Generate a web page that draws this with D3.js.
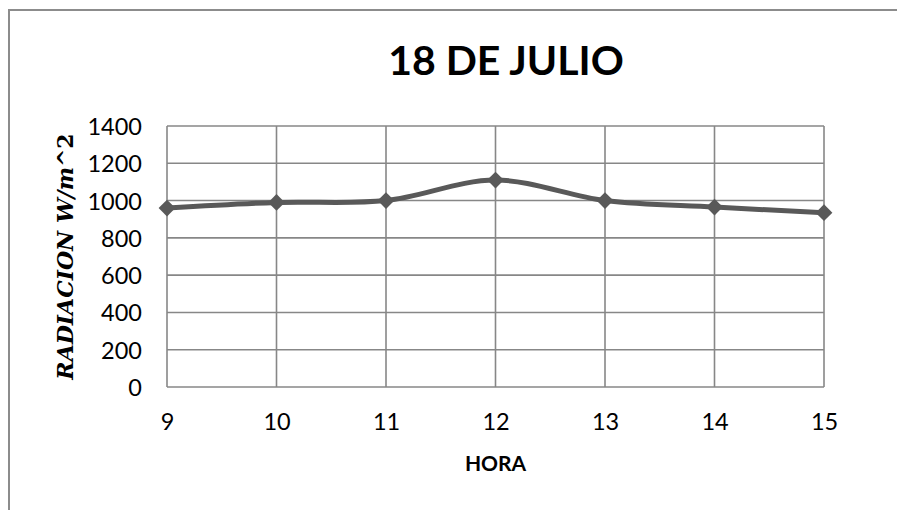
<!DOCTYPE html>
<html>
<head>
<meta charset="utf-8">
<script src="https://cdn.jsdelivr.net/npm/d3@7"></script>
<style>
  html, body { margin: 0; padding: 0; background: #fff; }
  svg { display: block; }
</style>
</head>
<body>
<svg id="chart" width="897" height="510"></svg>
<script>
// Hourly solar radiation readings, 18 July
const horas = [9, 10, 11, 12, 13, 14, 15];
const radiacion = [960, 990, 1000, 1110, 1000, 965, 935];
const yTicks = [0, 200, 400, 600, 800, 1000, 1200, 1400];
const titulo = "18 DE JULIO";
const tituloX = "HORA";

const svg = d3.select("#chart");
const W = 897, H = 510;
const plot = { left: 167, right: 824, top: 126, bottom: 387 };
const gridColor = "#878787";
const lineColor = "#595959";
const font = "Lato, 'Open Sans', sans-serif";

svg.append("rect").attr("width", W).attr("height", H).attr("fill", "#fff");

// Chart frame (top and left edges visible)
svg.append("path")
  .attr("d", `M9,${H} L9,10 L${W},10`)
  .attr("fill", "none").attr("stroke", "#8c8c8c").attr("stroke-width", 2);

const x = d3.scaleLinear().domain([d3.min(horas), d3.max(horas)]).range([plot.left, plot.right]);
const y = d3.scaleLinear().domain([0, 1400]).range([plot.bottom, plot.top]);

// Gridlines
const g = svg.append("g");
g.selectAll("line.h").data(yTicks).join("line")
  .attr("x1", plot.left).attr("x2", plot.right)
  .attr("y1", d => y(d)).attr("y2", d => y(d))
  .attr("stroke", gridColor).attr("stroke-width", 1.6);
g.selectAll("line.v").data(horas).join("line")
  .attr("x1", d => x(d)).attr("x2", d => x(d))
  .attr("y1", plot.top).attr("y2", plot.bottom)
  .attr("stroke", gridColor).attr("stroke-width", 1.6);

// Y axis tick labels
const yAxis = d3.axisLeft(y).tickValues(yTicks).tickFormat(d3.format("d")).tickSize(0).tickPadding(25);
svg.append("g").attr("transform", `translate(${plot.left},0)`).call(yAxis)
  .call(s => s.select(".domain").remove())
  .call(s => s.selectAll("text").attr("font-family", font).attr("font-size", 23.5)
    .attr("fill", "#000").attr("dy", "0.36em"));

// X axis tick labels
const xAxis = d3.axisBottom(x).tickValues(horas).tickFormat(d3.format("d")).tickSize(0).tickPadding(0);
svg.append("g").attr("transform", `translate(0,${plot.bottom})`).call(xAxis)
  .call(s => s.select(".domain").remove())
  .call(s => s.selectAll("text").attr("font-family", font).attr("font-size", 23.5)
    .attr("fill", "#000").attr("y", 43).attr("dy", 0));

// Smoothed series line
const line = d3.line()
  .x((d, i) => x(horas[i]))
  .y(d => y(d))
  .curve(d3.curveCardinal.tension(0));
svg.append("path").datum(radiacion)
  .attr("d", line)
  .attr("fill", "none").attr("stroke", lineColor).attr("stroke-width", 5)
  .attr("stroke-linejoin", "round");

// Diamond markers
const diamond = d3.symbol().type(d3.symbolDiamond2).size(180);
svg.selectAll("path.m").data(radiacion).join("path")
  .attr("transform", (d, i) => `translate(${x(horas[i])},${y(d)})`)
  .attr("d", diamond)
  .attr("fill", lineColor);

// Title
svg.append("text").attr("x", 506).attr("y", 75)
  .attr("text-anchor", "middle").attr("font-family", font)
  .attr("font-weight", 700).attr("font-size", 41).attr("fill", "#000")
  .text(titulo);

// X axis title
svg.append("text").attr("x", 495.5).attr("y", 471)
  .attr("text-anchor", "middle").attr("font-family", font)
  .attr("font-weight", 700).attr("font-size", 21).attr("fill", "#000")
  .text(tituloX);

// Y axis title
const yt = svg.append("text")
  .attr("transform", "translate(73,256.5) rotate(-90)")
  .attr("text-anchor", "middle")
  .attr("font-family", "'DejaVu Serif', serif")
  .attr("font-size", 22).attr("fill", "#000");
yt.append("tspan").attr("font-style", "italic").attr("font-weight", 600).text("RADIACION  W/m");
yt.append("tspan").attr("font-weight", 700).text("^2");
</script>
</body>
</html>
